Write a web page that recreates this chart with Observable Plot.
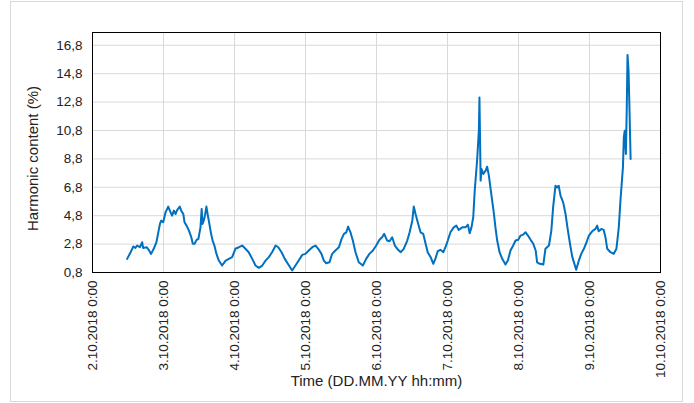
<!DOCTYPE html>
<html>
<head>
<meta charset="utf-8">
<script src="https://cdn.jsdelivr.net/npm/d3@7"></script>
<script src="https://cdn.jsdelivr.net/npm/@observablehq/plot@0.6"></script>
<style>
  html, body { margin: 0; padding: 0; background: #fff; }
  #wrap { position: relative; width: 694px; height: 403px; }
  #border { position: absolute; left: 10px; top: 1px; width: 671px; height: 399px; border: 1px solid #d9d9d9; pointer-events: none; }
</style>
</head>
<body>
<div id="wrap"><div id="border"></div></div>
<script>
// Hours since 2.10.2018 0:00
const hoursFromStart = [
  11.7, 12.9, 13.8, 14.5, 15.1, 16.0, 16.8, 17.1, 18.3, 19.0, 19.8, 20.7, 21.6, 22.8, 23.2, 23.9,
  24.7, 25.6, 26.4, 26.9, 27.5, 28.1, 28.6, 29.5, 30.1, 30.7, 31.1, 31.8, 32.6, 33.4, 33.9, 34.5,
  35.2, 35.8, 36.5, 36.9, 37.2, 37.6, 38.0, 38.5, 39.0, 39.5, 40.1, 40.6, 41.2, 41.9, 42.7, 43.8,
  45.0, 46.1, 47.2, 48.3, 49.5, 50.6, 51.7, 52.8, 54.0, 55.1, 56.2, 57.4, 58.5, 59.6, 60.7, 61.9,
  62.8, 63.9, 65.0, 66.2, 67.5, 68.6, 69.7, 70.9, 72.0, 73.1, 74.3, 75.4, 76.3, 77.4, 78.2, 79.0,
  80.1, 81.0, 82.1, 83.3, 84.2, 85.0, 85.8, 86.4, 87.2, 88.0, 88.9, 90.0, 91.4, 92.5, 93.6, 94.8,
  95.9, 97.0, 97.9, 98.6, 99.6, 100.4, 101.3, 102.2, 103.3, 104.2, 105.2, 106.4, 107.2, 108.1, 108.6, 109.2,
  110.1, 110.9, 111.8, 112.6, 113.3, 114.3, 115.2, 115.9, 116.7, 117.6, 118.6, 119.3, 120.1, 121.0, 122.1, 123.0,
  123.8, 125.0, 126.1, 126.9, 127.5, 128.1, 128.7, 129.2, 130.0, 130.6, 130.8, 131.2, 131.5, 132.1, 132.9, 133.4,
  134.0, 134.5, 135.1, 135.7, 136.2, 136.8, 137.6, 138.5, 139.6, 140.4, 141.3, 142.2, 143.0, 143.9, 144.7, 145.6,
  146.4, 147.2, 148.1, 149.0, 149.8, 150.3, 151.2, 152.4, 153.1, 154.3, 155.1, 155.7, 156.5, 157.1, 157.6, 158.2,
  159.1, 159.9, 160.7, 161.6, 162.2, 162.9, 163.5, 164.4, 165.2, 166.1, 167.0, 167.8, 168.9, 170.0, 170.6, 171.1,
  172.0, 172.8, 173.4, 174.0, 175.1, 176.2, 177.1, 177.9, 178.5, 179.3, 179.6, 179.9, 180.3, 180.6, 180.85, 181.2,
  181.5, 181.9
];
const harmonicValues = [
  1.76, 2.23, 2.63, 2.53, 2.70, 2.58, 2.93, 2.53, 2.58, 2.40, 2.11, 2.47, 2.93, 4.22, 4.45, 4.34,
  5.04, 5.44, 5.04, 4.80, 5.16, 4.92, 5.20, 5.44, 5.10, 4.92, 4.34, 4.10, 3.75, 3.28, 2.82, 2.82,
  3.10, 3.17, 3.98, 5.28, 4.22, 4.45, 4.80, 5.44, 4.80, 4.22, 3.52, 3.05, 2.70, 2.11, 1.64, 1.29,
  1.64, 1.76, 1.88, 2.47, 2.58, 2.70, 2.47, 2.23, 1.76, 1.29, 1.13, 1.29, 1.64, 1.88, 2.23, 2.70,
  2.58, 2.23, 1.76, 1.36, 0.94, 1.29, 1.64, 2.04, 2.11, 2.35, 2.58, 2.70, 2.47, 2.11, 1.64, 1.45,
  1.52, 2.11, 2.35, 2.58, 3.17, 3.52, 3.63, 4.03, 3.63, 3.05, 2.23, 1.52, 1.29, 1.76, 2.11, 2.35,
  2.70, 3.10, 3.28, 3.52, 3.05, 3.00, 3.28, 2.70, 2.40, 2.23, 2.47, 3.05, 3.63, 4.45, 5.44, 4.92,
  4.22, 3.63, 3.52, 2.82, 2.23, 1.88, 1.41, 1.76, 2.30, 2.40, 2.23, 2.58, 3.05, 3.63, 3.98, 4.10,
  3.80, 3.98, 3.98, 4.17, 3.56, 3.98, 4.69, 6.56, 8.67, 10.78, 13.12, 7.27, 8.09, 7.74, 7.97, 8.25,
  7.62, 6.79, 5.86, 4.92, 3.98, 3.05, 2.23, 1.76, 1.36, 1.64, 2.35, 2.70, 3.05, 3.10, 3.40, 3.47,
  3.63, 3.40, 3.10, 2.82, 2.35, 1.52, 1.41, 1.36, 2.47, 2.70, 3.75, 5.39, 6.91, 6.79, 6.91, 6.21,
  5.74, 4.92, 3.75, 2.58, 1.88, 1.41, 0.99, 1.64, 2.11, 2.47, 2.93, 3.40, 3.70, 3.87, 4.10, 3.70,
  3.87, 3.80, 3.28, 2.47, 2.23, 2.11, 2.47, 3.98, 5.98, 8.20, 10.31, 10.78, 9.14, 12.42, 16.12, 15.00,
  12.42, 8.79
];
const yTicks = [0.8, 2.8, 4.8, 6.8, 8.8, 10.8, 12.8, 14.8, 16.8];
const xTickDays = [2, 3, 4, 5, 6, 7, 8, 9, 10];
const xTitle = "Time (DD.MM.YY hh:mm)";
const yTitle = "Harmonic content (%)";

const start = Date.UTC(2018, 9, 2);
const data = hoursFromStart.map((h, i) => ({ t: new Date(start + h * 3600e3), v: harmonicValues[i] }));
const xTicks = xTickDays.map(d => new Date(Date.UTC(2018, 9, d)));

const chart = Plot.plot({
  width: 694,
  height: 403,
  marginLeft: 92,
  marginRight: 34,
  marginTop: 32,
  marginBottom: 131,
  style: { fontFamily: "'Liberation Sans', Arial, sans-serif", fontSize: "13.5px", color: "#222", background: "transparent" },
  x: { type: "utc", domain: [xTicks[0], xTicks[xTicks.length - 1]] },
  y: { domain: [0.8, 17.7] },
  marks: [
    Plot.gridX(xTicks, { stroke: "#d9d9d9", strokeOpacity: 1 }),
    Plot.gridY(yTicks, { stroke: "#d9d9d9", strokeOpacity: 1 }),
    Plot.axisX(xTicks, {
      tickSize: 0, tickPadding: 8, tickRotate: -90, label: null, fontSize: 13.5,
      tickFormat: d => `${d.getUTCDate()}.${d.getUTCMonth() + 1}.${d.getUTCFullYear()} 0:00`
    }),
    Plot.axisY(yTicks, {
      tickSize: 0, tickPadding: 10, label: null, fontSize: 13.5,
      tickFormat: d => d.toFixed(1).replace(".", ",")
    }),
    Plot.line(data, { x: "t", y: "v", stroke: "#0070C0", strokeWidth: 2, strokeLinejoin: "round" }),
    Plot.frame({ stroke: "#000", strokeWidth: 1 }),
    Plot.text([xTitle], { frameAnchor: "bottom", dy: 113, fontSize: 15, fill: "#222" }),
    Plot.text([yTitle], { frameAnchor: "left", textAnchor: "middle", dx: -59, dy: 6, rotate: -90, fontSize: 15, fill: "#222" })
  ]
});
document.getElementById("wrap").prepend(chart);
</script>
</body>
</html>
